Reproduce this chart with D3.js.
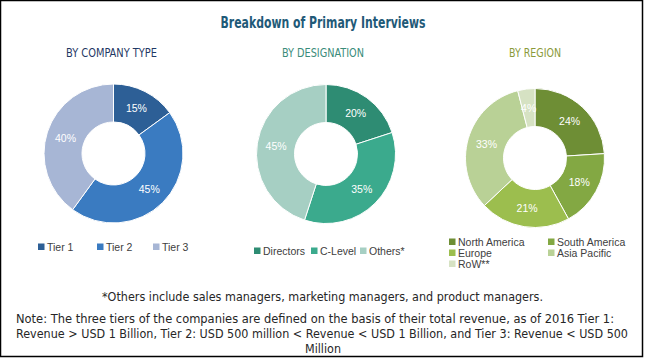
<!DOCTYPE html>
<html><head><meta charset="utf-8">
<script src="https://cdn.jsdelivr.net/npm/d3@7"></script>
<style>body{margin:0;background:#fff}svg{display:block}</style>
</head><body>
<script>
const title = "Breakdown of Primary Interviews";
const companyLabels = ["Tier 1","Tier 2","Tier 3"];
const companyValues = [15,45,40];
const designationLabels = ["Directors","C-Level","Others*"];
const designationValues = [20,35,45];
const regionLabels = ["North America","South America","Europe","Asia Pacific","RoW**"];
const regionValues = [24,18,21,33,4];
const noteLines = [
 "*Others include sales managers, marketing managers, and product managers.",
 "Note: The three tiers of the companies are defined on the basis of their total revenue, as of 2016 Tier 1:",
 "Revenue > USD 1 Billion, Tier 2: USD 500 million < Revenue < USD 1 Billion, and Tier 3: Revenue < USD 500",
 "Million"
];

const W=645,H=360;
const svg=d3.select("body").append("svg").attr("width",W).attr("height",H);
svg.append("rect").attr("x",0.5).attr("y",0.5).attr("width",642).attr("height",356)
 .attr("fill","#fff").attr("stroke","#000").attr("stroke-width",1.5);

const narrow="'Liberation Sans Narrow','DejaVu Sans Condensed',sans-serif";
const sans="'Liberation Sans',Arial,sans-serif";

svg.append("text").attr("x",323).attr("y",28).attr("text-anchor","middle")
 .attr("font-family",narrow).attr("font-weight","bold").attr("font-size",15)
 .attr("fill","#1f5a78").attr("textLength",205).attr("lengthAdjust","spacingAndGlyphs").text(title);

const charts=[
 {sub:"BY COMPANY TYPE",subX:111.5,subW:91,subC:"#1f3864",cx:113.5,cy:153.5,labels:companyLabels,values:companyValues,
  colors:["#2d5f96","#3a7bc1","#a7b6d5"]},
 {sub:"BY DESIGNATION",subX:323,subW:82,subC:"#3a8c7a",cx:326,cy:154,labels:designationLabels,values:designationValues,
  colors:["#2e8c73","#3baa8d","#a6cfc3"]},
 {sub:"BY REGION",subX:535,subW:52,subC:"#8a9a3a",cx:535,cy:158,labels:regionLabels,values:regionValues,
  colors:["#6e8e35","#83a843","#9cbe4e","#b9d196","#d6e2c3"]}
];

const pie=d3.pie().sort(null).value(d=>d);
const arc=d3.arc().innerRadius(31.5).outerRadius(69.5);

charts.forEach(c=>{
 svg.append("text").attr("x",c.subX).attr("y",57).attr("text-anchor","middle")
  .attr("font-family",narrow).attr("font-size",11.5).attr("fill",c.subC)
  .attr("textLength",c.subW).attr("lengthAdjust","spacingAndGlyphs").text(c.sub);
 const g=svg.append("g").attr("transform",`translate(${c.cx},${c.cy})`);
 const arcs=pie(c.values);
 g.selectAll("path").data(arcs).join("path").attr("d",arc)
  .attr("fill",(d,i)=>c.colors[i]).attr("stroke","#fff").attr("stroke-width",1);
 g.selectAll("text").data(arcs).join("text")
  .attr("transform",d=>`translate(${arc.centroid(d)})`).attr("dy","0.35em")
  .attr("text-anchor","middle").attr("font-family",sans).attr("font-size",10.5)
  .attr("fill","#fff").text(d=>d.data+"%");
});

// legends
function legendItem(x,y,color,label){
 svg.append("rect").attr("x",x).attr("y",y-3.5).attr("width",6.5).attr("height",6.5).attr("fill",color);
 svg.append("text").attr("x",x+9).attr("y",y).attr("dy","0.35em").attr("font-family",sans)
  .attr("font-size",10.5).attr("fill","#404040").text(label);
}
const leg1X=[38,97,153];
companyLabels.forEach((l,i)=>legendItem(leg1X[i],247,charts[0].colors[i],l));
const leg2X=[254,311,360];
designationLabels.forEach((l,i)=>legendItem(leg2X[i],251,charts[1].colors[i],l));
const leg3=[[449,242],[548,242],[449,253],[548,253],[449,264]];
regionLabels.forEach((l,i)=>legendItem(leg3[i][0],leg3[i][1],charts[2].colors[i],l));

// notes
const noteY=[297,319,334,349], noteX=[322.5,315,322,323], noteW=[441,598,612,36];
noteLines.forEach((t,i)=>{
 svg.append("text").attr("x",noteX[i]).attr("y",noteY[i]).attr("dy","0.35em").attr("text-anchor","middle")
  .attr("font-family",narrow).attr("font-size",12.5).attr("fill","#262626")
  .attr("textLength",noteW[i]).attr("lengthAdjust","spacingAndGlyphs").text(t);
});
</script>
</body></html>
